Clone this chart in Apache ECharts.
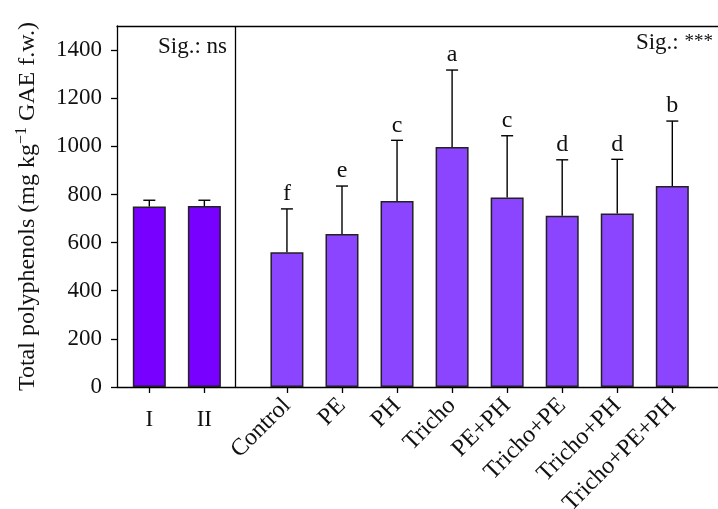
<!DOCTYPE html>
<html>
<head>
<meta charset="utf-8">
<script src="https://cdn.jsdelivr.net/npm/echarts@6/dist/echarts.min.js"></script>
<style>
  html, body { margin: 0; padding: 0; background: #fff; }
  #chart { width: 718px; height: 509px; }
</style>
</head>
<body>
<div id="chart"></div>
<script>
// 样地 (I, II)
const groupNames = ['I', 'II']
const groupPos = [1, 2]
const groupMeans = [750, 752]
const groupErrTop = [776, 776]
// 处理
const treatNames = ['Control', 'PE', 'PH', 'Tricho', 'PE+PH', 'Tricho+PE', 'Tricho+PH', 'Tricho+PE+PH']
const treatPos = [3.5, 4.5, 5.5, 6.5, 7.5, 8.5, 9.5, 10.5]
const treatMeans = [560, 636, 773, 997, 787, 712, 721, 835]
const treatErrTop = [740, 835, 1025, 1317, 1044, 944, 946, 1105]
const treatLetters = ['f', 'e', 'c', 'a', 'c', 'd', 'd', 'b']
const yTicks = [0, 200, 400, 600, 800, 1000, 1200, 1400]
const dividerPos = 2.57

const FONT = 'Liberation Serif'
const groupColor = '#7700ff'
const treatColor = '#8c45ff'

let chart = echarts.init(document.getElementById('chart'))

let labelMap = {}
groupPos.forEach(function (p, i) { labelMap[p] = groupNames[i] })
treatPos.forEach(function (p, i) { labelMap[p] = treatNames[i] })

let barData = []
let errData = []
groupPos.forEach(function (p, i) {
  barData.push({ value: [p, groupMeans[i]], itemStyle: { color: groupColor } })
  errData.push([p, groupMeans[i], groupErrTop[i], ''])
})
treatPos.forEach(function (p, i) {
  barData.push({ value: [p, treatMeans[i]], itemStyle: { color: treatColor } })
  errData.push([p, treatMeans[i], treatErrTop[i], treatLetters[i]])
})

let baseX = {
  type: 'value',
  min: 0.413,
  max: 11.33,
  splitLine: { show: false },
  axisLine: { show: true, onZero: false, lineStyle: { color: '#000', width: 1.3 } },
  axisTick: { show: false },
  axisLabel: { show: false }
}

chart.setOption({
  animation: false,
  grid: { left: 117, right: 0, top: 26, bottom: 122, containLabel: false, outerBoundsMode: 'none' },
  xAxis: [
    Object.assign({}, baseX, {
      position: 'bottom',
      axisTick: { show: true, inside: false, length: 6, customValues: groupPos, lineStyle: { color: '#000', width: 1.3 } },
      axisLabel: {
        show: true,
        customValues: groupPos,
        margin: 21,
        fontFamily: FONT,
        fontSize: 23,
        color: '#111',
        formatter: function (v) { return labelMap[v] || '' }
      }
    }),
    Object.assign({}, baseX, {
      position: 'bottom',
      axisLine: { show: false },
      axisTick: { show: true, inside: false, length: 6, customValues: treatPos, lineStyle: { color: '#000', width: 1.3 } },
      axisLabel: {
        show: true,
        customValues: treatPos,
        rotate: 45,
        margin: 15,
        fontFamily: FONT,
        fontSize: 24,
        color: '#111',
        formatter: function (v) { return labelMap[v] || '' }
      }
    }),
    Object.assign({}, baseX, { position: 'top' })
  ],
  yAxis: {
    type: 'value',
    min: 0,
    max: 1500,
    interval: 200,
    splitLine: { show: false },
    axisLine: { show: true, lineStyle: { color: '#000', width: 1.3 } },
    axisTick: { show: true, length: 6, customValues: yTicks, lineStyle: { color: '#000', width: 1.3 } },
    axisLabel: {
      customValues: yTicks,
      margin: 15,
      fontFamily: FONT,
      fontSize: 23,
      color: '#111',
      formatter: function (v) { return String(v) }
    },
    name: 'Total polyphenols (mg kg{sup|−1} GAE f.w.)',
    nameLocation: 'middle',
    nameGap: 75,
    nameTextStyle: {
      fontFamily: FONT,
      fontSize: 24,
      color: '#111',
      rich: {
        sup: { fontFamily: FONT, fontSize: 16, color: '#111', padding: [0, 0, 12, 0] }
      }
    }
  },
  series: [
    {
      type: 'bar',
      xAxisIndex: 0,
      barWidth: 33,
      data: barData,
      itemStyle: { borderColor: '#222', borderWidth: 1.5 },
      markLine: {
        silent: true,
        symbol: 'none',
        label: { show: false },
        lineStyle: { color: '#000', width: 1.3, type: 'solid' },
        data: [{ xAxis: dividerPos }]
      }
    },
    {
      type: 'custom',
      xAxisIndex: 0,
      data: errData,
      z: 5,
      renderItem: function (params, api) {
        let x = api.value(0)
        let base = api.coord([x, api.value(1)])
        let top = api.coord([x, api.value(2)])
        let cap = 6
        let style = { stroke: '#000', lineWidth: 1.4 }
        return {
          type: 'group',
          children: [
            { type: 'line', shape: { x1: base[0], y1: base[1], x2: top[0], y2: top[1] }, style: style },
            { type: 'line', shape: { x1: top[0] - cap, y1: top[1], x2: top[0] + cap, y2: top[1] }, style: style },
            {
              type: 'text',
              style: {
                text: api.value(3),
                x: top[0],
                y: top[1] - 3,
                align: 'center',
                verticalAlign: 'bottom',
                fontFamily: FONT,
                fontSize: 24,
                fill: '#111'
              }
            }
          ]
        }
      }
    }
  ],
  graphic: [
    { type: 'text', left: 158, top: 35, style: { text: 'Sig.: ns', fontFamily: FONT, fontSize: 23, fill: '#111' } },
    {
      type: 'text',
      right: 5,
      top: 31,
      style: {
        text: 'Sig.: {s|***}',
        fontFamily: FONT,
        fontSize: 23,
        fill: '#111',
        rich: { s: { fontFamily: FONT, fontSize: 19, fill: '#111' } }
      }
    }
  ]
})
</script>
</body>
</html>
